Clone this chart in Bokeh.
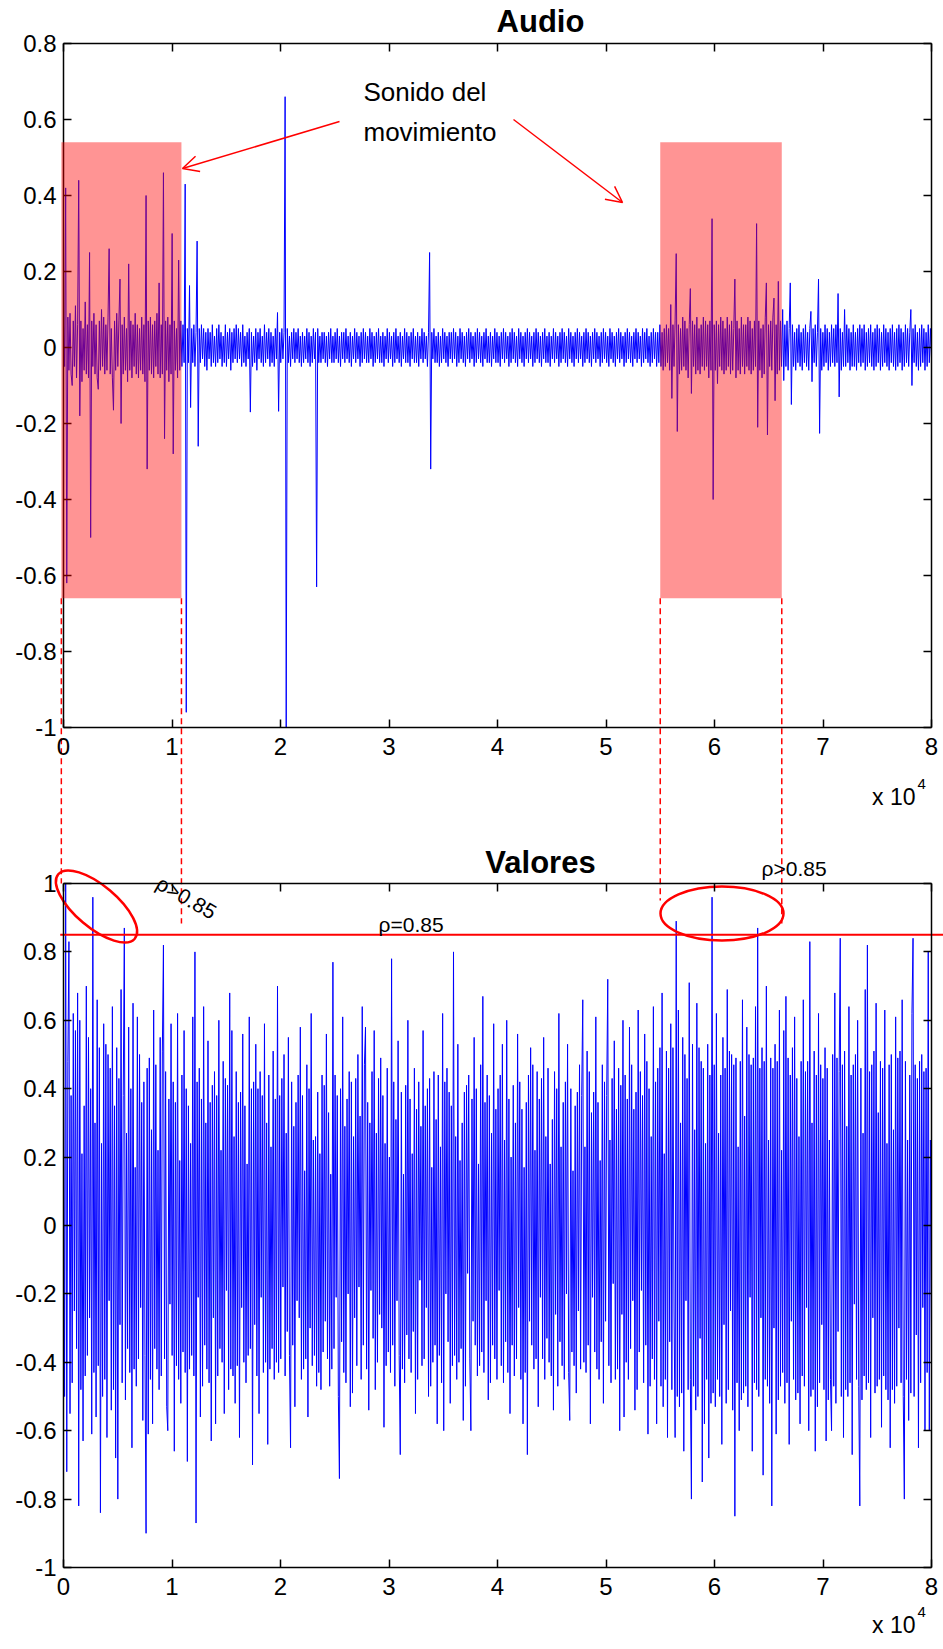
import numpy as np
from bokeh.plotting import figure
from bokeh.models import (Range1d, LinearAxis, FixedTicker, Label, BoxAnnotation,
                          Arrow, OpenHead)
from bokeh.embed import file_html
from bokeh.resources import INLINE

# ---------------------------------------------------------------- data
N_SAMPLES = 80000
x_ticks = [0, 10000, 20000, 30000, 40000, 50000, 60000, 70000, 80000]
x_tick_labels = ["0", "1", "2", "3", "4", "5", "6", "7", "8"]
audio_ticks = [-1.0, -0.8, -0.6, -0.4, -0.2, 0.0, 0.2, 0.4, 0.6, 0.8]
audio_tick_labels = ["-1", "-0.8", "-0.6", "-0.4", "-0.2", "0", "0.2", "0.4", "0.6", "0.8"]
val_ticks = [-1.0, -0.8, -0.6, -0.4, -0.2, 0.0, 0.2, 0.4, 0.6, 0.8, 1.0]
val_tick_labels = ["-1", "-0.8", "-0.6", "-0.4", "-0.2", "0", "0.2", "0.4", "0.6", "0.8", "1"]

# audio waveform, one value every 100 samples
audio = [
    0.06, -0.05, 0.42, -0.62, 0.08, -0.06, 0.09, -0.07, -0.10, 0.07, -0.05, 0.11, -0.08, 0.06, 0.44, -0.18, 0.07, -0.09, 0.05, -0.06,
    0.12, -0.07, 0.06, -0.08, 0.25, -0.50, 0.07, -0.05, 0.09, -0.07, 0.06, -0.08, -0.11, 0.07, -0.06, 0.10, -0.05, 0.08, -0.07, 0.06,
    -0.06, 0.08, 0.26, -0.07, 0.05, -0.08, -0.165, 0.07, -0.06, 0.09, -0.05, 0.07, 0.18, -0.20, 0.06, -0.07, 0.08, -0.06, 0.05, -0.09,
    0.22, -0.06, 0.07, -0.08, 0.06, -0.05, 0.09, -0.07, 0.06, -0.08, 0.05, -0.06, 0.08, -0.07, 0.06, -0.09, 0.40, -0.32, 0.07, -0.06,
    0.08, -0.07, 0.06, -0.08, 0.07, -0.05, 0.09, -0.07, 0.17, -0.08, 0.06, -0.07, 0.46, -0.24, 0.07, -0.06, 0.08, -0.09, 0.06, -0.07,
    0.30, -0.28, 0.07, -0.06, 0.05, -0.08, 0.23, -0.06, 0.07, -0.05, 0.06, -0.04, 0.43, -0.96, 0.05, -0.04, 0.163, -0.158, 0.05, -0.04,
    0.06, -0.05, 0.04, 0.28, -0.26, 0.05, -0.04, 0.06, -0.03, 0.05, -0.05, 0.04, -0.06, 0.05, -0.03, 0.04, -0.05, 0.06, -0.04, 0.03,
    -0.05, 0.05, -0.04, 0.06, -0.03, 0.04, -0.05, 0.03, -0.04, 0.06, -0.05, 0.04, -0.03, 0.05, -0.06, 0.04, -0.04, 0.05, -0.03, 0.06,
    -0.04, 0.05, -0.03, 0.04, -0.05, 0.06, -0.04, 0.03, -0.05, 0.04, -0.03, 0.05, -0.17, 0.04, -0.05, 0.03, -0.04, 0.05, -0.06, 0.04,
    -0.03, 0.05, -0.04, 0.03, -0.05, 0.06, -0.04, 0.04, -0.03, 0.05, -0.05, 0.04, -0.04, 0.03, -0.05, 0.05, -0.03, 0.092, -0.168, 0.04,
    -0.04, 0.05, -0.03, 0.04, 0.66, -1.0, 0.05, -0.04, 0.03, -0.05, 0.04, -0.03, 0.05, -0.04, 0.04, -0.03, 0.05, -0.04, 0.03, -0.05,
    0.04, -0.04, 0.03, -0.03, 0.05, -0.04, 0.04, -0.05, 0.03, -0.04, 0.05, -0.03, 0.04, -0.63, 0.05, -0.04, 0.03, -0.04, 0.04, -0.03,
    0.04, -0.04, 0.03, -0.05, 0.04, -0.03, 0.05, -0.04, 0.03, -0.04, 0.04, -0.03, 0.05, -0.04, 0.03, -0.05, 0.04, -0.03, 0.04, -0.04,
    0.05, -0.03, 0.03, -0.04, 0.04, -0.05, 0.03, -0.03, 0.05, -0.04, 0.04, -0.03, 0.03, -0.05, 0.04, -0.04, 0.05, -0.03, 0.04, -0.04,
    0.03, -0.04, 0.05, -0.03, 0.04, -0.05, 0.03, -0.04, 0.04, -0.03, 0.05, -0.04, 0.03, -0.04, 0.04, -0.05, 0.03, -0.03, 0.05, -0.04,
    0.04, -0.03, 0.03, -0.05, 0.04, -0.04, 0.05, -0.03, 0.03, -0.04, 0.04, -0.05, 0.03, -0.03, 0.05, -0.04, 0.04, -0.04, 0.03, -0.05,
    0.04, -0.03, 0.05, -0.04, 0.03, -0.04, 0.04, -0.05, 0.03, -0.03, 0.05, -0.04, 0.04, -0.03, 0.03, -0.05, 0.04, 0.25, -0.32, 0.04,
    -0.03, 0.05, -0.04, 0.03, -0.04, 0.04, -0.05, 0.03, -0.04, 0.05, -0.03, 0.04, -0.04, 0.03, -0.05, 0.04, -0.03, 0.04, -0.04, 0.05,
    -0.03, 0.04, -0.05, 0.03, -0.04, 0.05, -0.03, 0.04, -0.04, 0.03, -0.05, 0.04, -0.03, 0.05, -0.04, 0.04, -0.03, 0.03, -0.05, 0.04,
    -0.04, 0.05, -0.03, 0.04, -0.04, 0.03, -0.05, 0.04, -0.03, 0.05, -0.04, 0.03, -0.04, 0.04, -0.05, 0.03, -0.03, 0.05, -0.04, 0.04,
    -0.04, 0.03, -0.05, 0.04, -0.03, 0.05, -0.04, 0.04, -0.03, 0.03, -0.05, 0.04, -0.04, 0.05, -0.03, 0.04, -0.04, 0.03, -0.05, 0.05,
    -0.03, 0.04, -0.04, 0.03, -0.05, 0.04, -0.03, 0.05, -0.04, 0.04, -0.03, 0.03, -0.05, 0.04, -0.04, 0.05, -0.03, 0.04, -0.04, 0.03,
    -0.05, 0.04, -0.03, 0.05, -0.04, 0.03, -0.04, 0.04, -0.05, 0.03, -0.03, 0.05, -0.04, 0.04, -0.03, 0.03, -0.05, 0.04, -0.04, 0.05,
    -0.03, 0.04, -0.04, 0.03, -0.05, 0.05, -0.03, 0.04, -0.04, 0.03, -0.05, 0.04, -0.03, 0.05, -0.04, 0.04, -0.03, 0.03, -0.05, 0.04,
    -0.04, 0.05, -0.03, 0.04, -0.04, 0.03, -0.05, 0.04, -0.03, 0.05, -0.04, 0.04, -0.03, 0.03, -0.05, 0.04, -0.04, 0.05, -0.03, 0.04,
    -0.04, 0.03, -0.05, 0.05, -0.03, 0.04, -0.04, 0.03, -0.05, 0.04, -0.03, 0.05, -0.04, 0.04, -0.03, 0.03, -0.05, 0.04, -0.04, 0.05,
    -0.03, 0.04, -0.04, 0.03, -0.05, 0.04, -0.03, 0.05, -0.04, 0.04, -0.03, 0.03, -0.05, 0.05, -0.04, 0.04, -0.03, 0.05, -0.04, 0.03,
    -0.05, 0.04, -0.04, 0.05, -0.03, 0.04, -0.05, 0.04, -0.04, 0.06, -0.05, 0.04, -0.06, 0.05, -0.05, 0.06, -0.04, 0.05, -0.06, 0.113,
    -0.134, 0.06, -0.05, 0.07, 0.247, -0.221, 0.06, -0.07, 0.05, -0.06, 0.08, -0.05, 0.07, -0.06, 0.05, -0.08, 0.06, 0.155, -0.121, 0.07,
    -0.05, 0.06, -0.07, 0.08, -0.06, 0.05, -0.07, 0.06, -0.05, 0.08, -0.06, 0.07, -0.05, 0.06, -0.08, 0.07, -0.06, 0.339, -0.40, 0.06,
    -0.06, 0.07, -0.095, 0.06, -0.05, 0.08, -0.06, 0.07, -0.07, 0.05, -0.06, 0.08, -0.05, 0.06, -0.07, 0.07, -0.06, 0.05, 0.18, -0.08,
    0.07, -0.06, 0.05, -0.07, 0.08, -0.05, 0.06, -0.07, 0.06, -0.05, 0.08, -0.06, 0.07, -0.07, 0.05, -0.06, 0.07, -0.05, 0.326, -0.21,
    0.07, -0.06, 0.05, -0.08, 0.06, -0.07, 0.08, 0.17, -0.23, 0.06, -0.05, 0.07, -0.06, 0.08, 0.13, -0.14, 0.06, -0.07, 0.174, -0.06,
    0.07, -0.05, 0.10, -0.087, 0.06, -0.05, 0.07, -0.06, 0.05, 0.17, -0.15, 0.06, -0.05, 0.04, -0.06, 0.05, -0.04, 0.06, -0.05, 0.04,
    -0.06, 0.05, -0.04, 0.06, -0.05, 0.04, -0.06, 0.05, 0.095, -0.09, 0.05, -0.04, 0.06, -0.05, 0.04, 0.18, -0.226, 0.05, -0.06, 0.04,
    -0.05, 0.06, -0.04, 0.05, -0.06, 0.04, -0.05, 0.06, -0.04, 0.05, -0.05, 0.06, -0.04, 0.142, -0.13, 0.05, -0.06, 0.04, -0.05, 0.10,
    -0.05, 0.06, -0.04, 0.05, -0.06, 0.04, -0.05, 0.06, -0.05, 0.04, -0.06, 0.05, -0.04, 0.06, -0.05, 0.05, -0.04, 0.06, -0.06, 0.04,
    -0.05, 0.05, -0.04, 0.06, -0.05, 0.04, -0.06, 0.05, -0.05, 0.06, -0.04, 0.05, -0.06, 0.04, -0.05, 0.06, -0.04, 0.05, -0.05, 0.04,
    -0.06, 0.05, -0.04, 0.06, -0.05, 0.04, -0.06, 0.05, -0.05, 0.06, -0.04, 0.05, -0.06, 0.04, -0.05, 0.06, -0.04, 0.05, -0.05, 0.04,
    0.10, -0.10, 0.05, -0.04, 0.06, -0.05, 0.04, -0.06, 0.05, -0.05, 0.06, -0.04, 0.05, -0.06, 0.04, -0.05, 0.06, -0.04, 0.05, -0.03,
]

# correlation values, one value every 100 samples
valores = [
    0.42, -0.50, 1.0, -0.72, 0.48, 0.83, -0.55, 0.38, -0.46, 0.62, -0.25, 0.57, -0.36, 0.68, -0.82, 0.60, -0.48, 0.21, -0.63, 0.35,
    -0.44, 0.70, -0.38, 0.55, -0.27, 0.40, -0.61, 0.96, -0.43, 0.30, -0.56, 0.66, -0.41, 0.52, -0.84, 0.24, -0.50, 0.59, -0.45, 0.53,
    -0.62, 0.50, -0.22, 0.46, -0.54, 0.64, -0.48, 0.35, -0.68, 0.52, -0.80, 0.43, -0.29, 0.69, -0.46, 0.38, 0.87, -0.51, 0.27, -0.36,
    0.58, -0.43, 0.40, -0.65, 0.65, -0.42, 0.17, -0.47, 0.61, -0.39, 0.50, -0.24, 0.36, -0.57, 0.42, -0.38, -0.90, 0.46, -0.61, 0.49,
    -0.45, 0.28, -0.58, 0.63, -0.36, 0.47, -0.42, 0.22, -0.48, 0.55, -0.44, 0.51, 0.82, -0.39, 0.45, -0.53, -0.60, 0.37, -0.23, 0.59,
    -0.38, 0.42, -0.66, 0.36, -0.41, 0.62, -0.45, 0.19, -0.52, 0.44, -0.37, 0.57, -0.43, 0.40, -0.69, 0.35, -0.42, 0.24, -0.38, 0.61,
    -0.44, 0.80, -0.87, 0.42, -0.21, 0.46, -0.56, 0.37, -0.47, 0.64, -0.35, 0.30, -0.42, 0.54, -0.46, 0.36, -0.63, 0.41, -0.27, 0.45,
    -0.58, 0.38, -0.44, 0.60, -0.36, 0.22, -0.40, 0.48, -0.55, 0.43, -0.19, 0.41, -0.48, 0.68, -0.42, 0.57, -0.44, 0.26, -0.52, 0.45,
    -0.41, 0.36, -0.62, 0.39, -0.24, 0.56, -0.40, 0.35, -0.46, 0.18, -0.38, 0.61, -0.36, 0.40, -0.70, 0.42, -0.29, 0.53, -0.44, 0.40,
    -0.55, 0.45, -0.21, 0.38, -0.43, 0.59, -0.40, 0.30, -0.64, 0.44, -0.42, 0.23, -0.36, 0.51, -0.45, 0.37, -0.40, 0.70, -0.43, 0.38,
    -0.39, 0.43, -0.18, 0.50, -0.44, 0.27, -0.31, 0.55, -0.38, -0.65, 0.42, -0.35, 0.29, -0.53, 0.36, -0.22, 0.44, -0.27, 0.58, -0.45,
    0.38, -0.42, 0.16, -0.39, 0.47, -0.56, 0.40, -0.30, 0.62, -0.41, 0.25, -0.38, 0.26, -0.47, 0.39, -0.43, 0.21, -0.48, 0.44, -0.37,
    0.41, -0.28, 0.56, -0.39, 0.33, -0.47, 0.15, -0.42, 0.77, -0.36, 0.44, -0.21, 0.38, -0.50, -0.74, 0.40, -0.34, 0.61, -0.43, 0.29,
    -0.46, 0.37, -0.20, 0.45, -0.53, 0.42, -0.49, 0.26, -0.27, 0.43, -0.41, 0.50, -0.18, 0.32, -0.45, 0.64, -0.35, 0.47, 0.58, -0.42,
    0.36, -0.54, 0.30, -0.19, 0.45, -0.33, 0.57, -0.48, 0.27, -0.40, 0.43, -0.26, 0.49, -0.30, 0.38, -0.59, 0.24, -0.41, 0.46, -0.37,
    0.20, -0.43, 0.78, -0.35, 0.42, -0.47, 0.31, -0.22, 0.54, -0.38, -0.67, 0.39, -0.42, 0.15, -0.46, 0.41, -0.32, 0.60, -0.39, 0.37,
    -0.43, 0.21, -0.31, 0.46, -0.55, 0.34, -0.45, 0.42, -0.16, 0.29, -0.41, 0.57, -0.39, 0.35, -0.24, 0.40, -0.50, 0.43, -0.47, 0.17,
    -0.40, 0.45, -0.35, 0.31, -0.58, 0.44, -0.38, 0.23, -0.46, 0.62, -0.60, 0.42, -0.20, 0.46, -0.34, 0.39, -0.52, 0.35, -0.41, 0.80,
    -0.38, 0.26, -0.45, 0.53, -0.40, 0.19, -0.36, 0.30, -0.57, 0.39, -0.47, 0.41, -0.14, 0.44, -0.39, -0.60, 0.37, -0.28, 0.55, -0.35,
    0.40, -0.44, 0.18, -0.41, 0.47, -0.37, 0.67, -0.43, 0.36, -0.22, 0.44, -0.51, 0.38, -0.46, 0.27, -0.35, 0.59, -0.39, 0.34, -0.45,
    0.40, -0.19, 0.44, -0.41, 0.53, -0.46, 0.25, -0.34, 0.60, -0.43, 0.37, -0.55, 0.20, -0.35, 0.41, -0.44, 0.30, -0.39, 0.56, -0.24,
    0.42, -0.45, 0.34, -0.58, 0.17, -0.43, 0.36, -0.67, 0.44, -0.28, 0.52, -0.35, 0.47, -0.42, 0.22, -0.39, 0.45, -0.53, 0.37, -0.21,
    0.43, -0.39, 0.55, -0.45, 0.26, -0.33, 0.46, -0.40, 0.18, -0.44, 0.31, -0.54, 0.45, -0.26, 0.40, -0.47, 0.62, -0.34, 0.23, -0.41,
    0.36, -0.45, 0.42, -0.20, 0.53, -0.43, -0.57, 0.40, -0.37, 0.16, -0.41, 0.35, -0.49, 0.39, -0.25, 0.47, -0.42, 0.38, 0.66, -0.40,
    0.23, -0.43, 0.51, -0.35, 0.45, -0.58, 0.33, -0.21, 0.39, -0.37, 0.61, -0.42, 0.36, -0.45, 0.19, -0.34, 0.47, -0.52, 0.42, -0.28,
    0.38, 0.72, -0.41, 0.25, -0.46, 0.43, -0.17, 0.54, -0.45, 0.34, -0.42, 0.46, -0.60, 0.41, -0.26, 0.60, -0.56, 0.44, -0.40, 0.37,
    -0.45, 0.58, -0.36, 0.47, -0.22, 0.34, -0.54, 0.39, -0.48, 0.63, -0.37, 0.45, -0.19, 0.38, -0.46, 0.56, -0.35, 0.48, -0.61, 0.40,
    -0.47, 0.26, -0.39, 0.64, -0.45, 0.42, -0.58, 0.46, -0.28, 0.52, -0.47, 0.68, -0.53, 0.21, -0.45, 0.51, -0.62, 0.46, -0.34, 0.59,
    -0.48, 0.52, -0.25, -0.62, 0.89, -0.50, 0.63, -0.53, 0.30, -0.49, 0.55, -0.66, 0.50, -0.22, 0.43, -0.48, 0.71, -0.45, -0.80, 0.53,
    -0.47, 0.28, -0.54, 0.65, -0.50, 0.52, -0.33, 0.48, -0.75, 0.46, -0.58, 0.24, -0.45, 0.53, -0.68, 0.44, -0.52, 0.96, -0.49, 0.47,
    -0.53, 0.62, -0.45, 0.27, -0.50, 0.44, -0.64, 0.55, -0.29, 0.46, -0.52, 0.69, -0.48, 0.51, -0.25, 0.50, -0.54, 0.47, -0.85, 0.49,
    -0.46, 0.23, -0.60, 0.48, -0.51, 0.66, -0.49, 0.32, -0.47, 0.58, -0.53, 0.50, -0.21, 0.47, -0.66, 0.49, -0.46, 0.64, -0.48, 0.87,
    -0.50, 0.46, -0.27, 0.52, -0.73, 0.48, -0.45, 0.70, -0.47, 0.25, -0.52, 0.49, -0.82, 0.46, -0.30, 0.53, -0.61, 0.48, -0.51, 0.63,
    -0.47, 0.22, -0.43, 0.57, -0.52, 0.67, -0.46, 0.49, -0.64, 0.44, -0.28, 0.52, -0.45, 0.61, -0.51, 0.43, -0.49, 0.26, -0.58, 0.48,
    -0.44, 0.66, -0.47, 0.45, -0.24, 0.48, -0.60, 0.83, -0.50, 0.30, -0.48, 0.51, -0.66, 0.44, -0.53, 0.62, -0.46, 0.47, -0.29, 0.43,
    -0.48, 0.52, -0.63, 0.46, -0.51, 0.25, -0.45, -0.60, 0.50, -0.47, 0.68, -0.52, 0.49, -0.31, 0.45, 0.84, -0.50, 0.47, -0.62, 0.51,
    -0.48, 0.29, -0.50, 0.64, -0.46, 0.44, -0.67, 0.47, -0.23, 0.50, -0.45, 0.60, -0.47, -0.82, 0.46, -0.51, 0.27, -0.44, 0.69, -0.48,
    0.82, -0.46, 0.45, -0.62, 0.47, -0.27, 0.51, -0.49, 0.65, -0.47, 0.33, -0.45, 0.48, -0.59, 0.46, -0.44, 0.63, -0.48, 0.24, -0.51,
    0.47, -0.65, 0.50, -0.48, 0.28, -0.52, 0.61, -0.47, 0.49, -0.30, 0.51, -0.46, 0.66, -0.50, -0.80, 0.48, -0.45, 0.25, -0.57, 0.44,
    -0.49, 0.62, 0.84, -0.50, 0.47, -0.32, 0.43, -0.65, 0.48, -0.46, 0.50, -0.24, 0.45, -0.60, 0.46, -0.43, 0.80, -0.60, 0.25, -0.30,
]

# highlighted stretches of the recording (samples) and threshold
movement_spans = [(-200, 10870), (55000, 66200)]
threshold = 0.85

# ---------------------------------------------------------------- page geometry
W, H = 943, 1649
L, R = 63, 931                  # left / right edges of both axes boxes
A_TOP, A_BOT = 43, 727          # "Audio" box
V_TOP, V_BOT = 883, 1567        # "Valores" box
A_LIM = (audio_ticks[0], audio_ticks[-1])
V_LIM = (val_ticks[0], val_ticks[-1])

kx = N_SAMPLES / (R - L)
ka = (A_LIM[1] - A_LIM[0]) / (A_BOT - A_TOP)
kv = (V_LIM[1] - V_LIM[0]) / (V_BOT - V_TOP)


def px_x(px):
    return (px - L) * kx


def px_ya(py):
    return A_LIM[1] - (py - A_TOP) * ka


def px_yv(py):
    return V_LIM[1] - (py - V_TOP) * kv


def yv_to_ya(v):
    return px_ya(V_TOP + (V_LIM[1] - v) / kv)


FONT = "Liberation Sans"
RED = "#FF0000"
BLUE = "#0000FF"

p = figure(width=W, height=H, output_backend="svg", toolbar_location=None,
           title=None, min_border=0, x_axis_type=None, y_axis_type=None,
           x_range=Range1d(px_x(0), px_x(W)),
           y_range=Range1d(px_ya(H), px_ya(0)))
p.extra_y_ranges = {"val": Range1d(px_yv(H), px_yv(0))}
p.outline_line_color = None
p.background_fill_color = "white"
p.border_fill_color = "white"


def box_axis(side, yrn, loc, bounds, ticks, labels=None):
    ax = LinearAxis(y_range_name=yrn, fixed_location=loc, bounds=bounds,
                    ticker=FixedTicker(ticks=ticks, minor_ticks=[]),
                    major_tick_in=8, major_tick_out=0,
                    minor_tick_in=0, minor_tick_out=0,
                    axis_line_color="black", axis_line_width=1.5,
                    major_tick_line_color="black", major_tick_line_width=1.5,
                    major_label_text_font=FONT, major_label_text_font_size="24px",
                    major_label_text_color="black")
    if labels is None:
        ax.major_label_text_color = None
    else:
        ax.major_label_overrides = {float(t): s for t, s in zip(ticks, labels)}
        ax.major_label_standoff = 10 if side in ("below", "above") else 7
    p.add_layout(ax, side)


xt = [float(t) for t in x_ticks]
xb = (0.0, float(N_SAMPLES))
# Audio box
box_axis("below", "default", A_LIM[0], xb, xt, x_tick_labels)
box_axis("above", "default", A_LIM[1], xb, xt)
box_axis("left", "default", 0.0, A_LIM, audio_ticks, audio_tick_labels)
box_axis("right", "default", float(N_SAMPLES), A_LIM, audio_ticks)
# Valores box
box_axis("below", "val", V_LIM[0], xb, xt, x_tick_labels)
box_axis("above", "val", V_LIM[1], xb, xt)
box_axis("left", "val", 0.0, V_LIM, val_ticks, val_tick_labels)
box_axis("right", "val", float(N_SAMPLES), V_LIM, val_ticks)

# signals
xa = np.linspace(0, N_SAMPLES, len(audio))
xv = np.linspace(0, N_SAMPLES, len(valores))
p.line(xa, audio, line_color=BLUE, line_width=1.0)
p.line(xv, valores, line_color=BLUE, line_width=1.0, y_range_name="val")

# movement stretches
for x0, x1 in movement_spans:
    p.add_layout(BoxAnnotation(left=x0, right=x1, bottom=-0.66, top=0.54,
                               fill_color=RED, fill_alpha=0.42, line_color=None))

# dashed guides from the highlighted stretches down to the correlation values
guide_x = [movement_spans[0][0], movement_spans[0][1], movement_spans[1][0], movement_spans[1][1]]
guide_end = [1.0, 0.883, 0.95, 0.883]
p.segment(x0=guide_x, y0=[-0.66] * 4, x1=guide_x, y1=[yv_to_ya(v) for v in guide_end],
          line_color=RED, line_width=1.5, line_dash="6 4")

# threshold line
p.segment(x0=[-300], y0=[threshold], x1=[px_x(W + 5)], y1=[threshold],
          line_color=RED, line_width=2, y_range_name="val")

# ellipses around the correlation peaks
p.ellipse(x=[px_x(96), px_x(721.5)], y=[px_yv(906), px_yv(913)],
          width=[100, 123], height=[42, 54], angle=[-0.70, 0.0],
          width_units="screen", height_units="screen",
          fill_color=None, line_color=RED, line_width=2.5, y_range_name="val")

# arrows pointing at the movement stretches
for (sx0, sy0), (sx1, sy1) in [((339, 121), (182, 168)), ((513, 119), (622, 202))]:
    p.add_layout(Arrow(x_start=px_x(sx0), y_start=px_ya(sy0), x_end=px_x(sx1), y_end=px_ya(sy1),
                       line_color=RED, line_width=1.5,
                       end=OpenHead(size=16, line_color=RED, line_width=1.5)))


# texts
def add_text(x, y, text, size, yrn="default", align="left", bold=False, angle=0.0):
    p.add_layout(Label(x=x, y=y, text=text, y_range_name=yrn, text_font=FONT,
                       text_font_size=size, text_align=align, text_baseline="middle",
                       text_font_style="bold" if bold else "normal", angle=angle,
                       text_color="black"))


add_text(px_x(540), px_ya(21), "Audio", "31px", align="center", bold=True)
add_text(px_x(540), px_yv(862), "Valores", "31px", yrn="val", align="center", bold=True)
add_text(px_x(363), px_ya(91), "Sonido del", "26px")
add_text(px_x(363), px_ya(131), "movimiento", "26px")
add_text(px_x(378), px_yv(924), "ρ=0.85", "21px", yrn="val")
add_text(px_x(761), px_yv(868), "ρ>0.85", "21px", yrn="val")
add_text(px_x(186), px_yv(897), "ρ>0.85", "21px", yrn="val", align="center", angle=-0.52)
# exponent of the sample axis
for base_y, yrn in [(px_ya(796), "default"), (px_yv(1624), "val")]:
    add_text(px_x(915), base_y, "x 10", "23px", yrn=yrn, align="right")
add_text(px_x(917), px_ya(783), "4", "15px")
add_text(px_x(917), px_yv(1611), "4", "15px", yrn="val")

open("out.html", "w").write(file_html(p, INLINE))
